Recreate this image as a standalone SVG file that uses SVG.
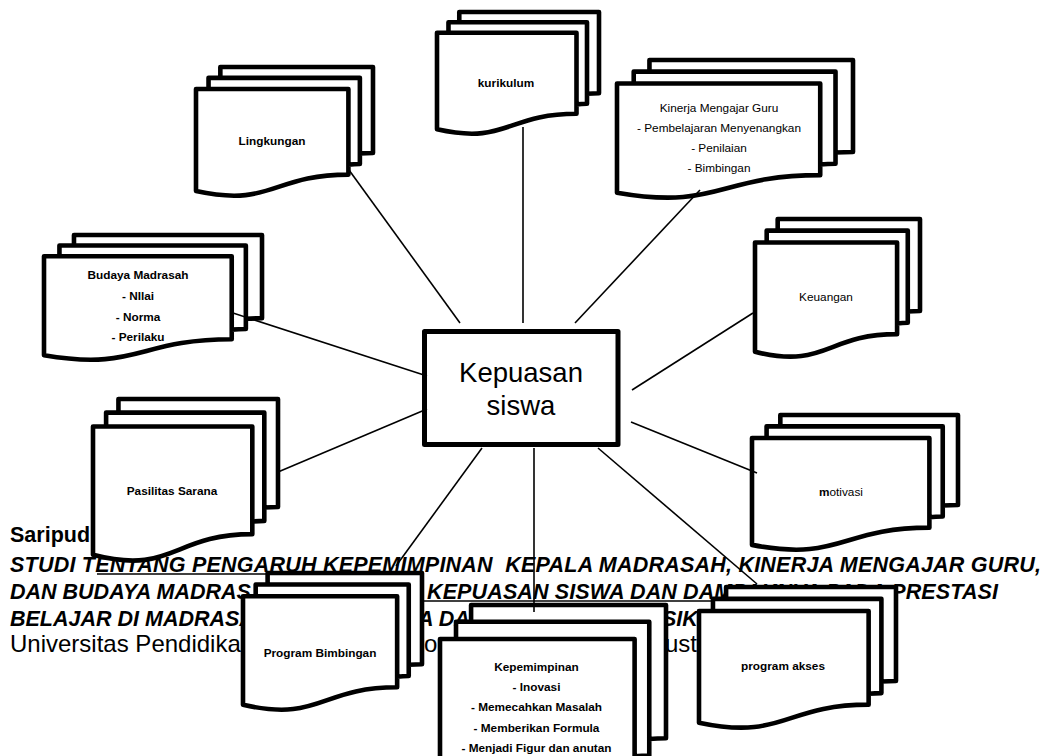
<svg xmlns="http://www.w3.org/2000/svg" xmlns:xlink="http://www.w3.org/1999/xlink" width="1051" height="756" viewBox="0 0 1051 756">
<style>
.md{fill:#fff;stroke:#000;stroke-width:4.6;stroke-linejoin:round;vector-effect:non-scaling-stroke}
.lbl{font-family:"Liberation Sans",Arial,sans-serif;font-size:11.8px;fill:#000;text-anchor:middle}
.b{font-weight:bold}
.ft{font-family:"Liberation Sans",Arial,sans-serif;fill:#000}
.bi{font-weight:bold;font-style:italic;font-size:21.5px}
.rg{font-size:24px}
.con line{stroke:#000;stroke-width:1.6;fill:none}
.ul{stroke:#000;stroke-width:1.3}
</style>
<defs>
<path id="md" class="md" d="M0,207.8 C93,235.4 93,180.2 186,180.2 L186,36.75 L0,36.75 Z M15.3,36.75 L15.3,18.15 L200,18.15 L200,162.5 C193,162.5 186,163.5 186,163.5 L186,36.75 Z M29.7,18.15 L29.7,0 L216,0 L216,143.9 C208,143.9 200,144.7 200,144.7 L200,18.15 Z"/>
</defs>
<rect width="1051" height="756" fill="#fff"/>
<g id="footer">
<text class="ft b" x="10" y="542" font-size="21.5px">Saripud</text>
<text class="ft bi" x="10" y="572" xml:space="preserve" textLength="1031" lengthAdjust="spacing">STUDI TENTANG PENGARUH KEPEMIMPINAN  KEPALA MADRASAH, KINERJA MENGAJAR GURU,</text>
<text class="ft bi" x="10" y="599">DAN BUDAYA MADRAS</text>
<text class="ft bi" x="427" y="599" textLength="571" lengthAdjust="spacing">KEPUASAN SISWA DAN DAMPAKNYA PADA PRESTASI</text>
<text class="ft bi" x="10" y="626">BELAJAR DI MADRASA</text>
<text class="ft bi" x="418" y="626">A DA</text>
<text class="ft bi" x="662" y="626">SIK</text>
<text class="ft rg" x="10" y="652">Universitas Pendidika</text>
<text class="ft rg" x="424" y="652">o</text>
<text class="ft rg" x="665" y="652">ust</text>
<line class="ul" x1="97" y1="574" x2="272" y2="574"/>
<line class="ul" x1="423" y1="601" x2="720" y2="601"/>
</g>
<g id="node-lingkungan">
<use xlink:href="#md" href="#md" transform="translate(196,67) scale(0.8194,0.5972)"/>
<text class="lbl b" x="272" y="145">Lingkungan</text>
</g>
<g id="node-kurikulum">
<use xlink:href="#md" href="#md" transform="translate(437,12) scale(0.75,0.5648)"/>
<text class="lbl b" x="506" y="87">kurikulum</text>
</g>
<g id="node-kinerja">
<use xlink:href="#md" href="#md" transform="translate(617,60) scale(1.0926,0.6389)"/>
<text class="lbl" x="719" y="112">Kinerja Mengajar Guru</text>
<text class="lbl" x="719" y="132">- Pembelajaran Menyenangkan</text>
<text class="lbl" x="719" y="152">- Penilaian</text>
<text class="lbl" x="719" y="172">- Bimbingan</text>
</g>
<g id="node-budaya">
<use xlink:href="#md" href="#md" transform="translate(44,235) scale(1.0093,0.5787)"/>
<text class="lbl b" x="138" y="279">Budaya Madrasah</text>
<text class="lbl b" x="138" y="300">- NIlai</text>
<text class="lbl b" x="138" y="321">- Norma</text>
<text class="lbl b" x="138" y="341">- Perilaku</text>
</g>
<g id="node-keuangan">
<use xlink:href="#md" href="#md" transform="translate(755,219) scale(0.7639,0.6389)"/>
<text class="lbl" x="826" y="301">Keuangan</text>
</g>
<g id="node-motivasi">
<use xlink:href="#md" href="#md" transform="translate(752,415) scale(0.9537,0.625)"/>
<text class="lbl" x="841" y="496"><tspan class="b">m</tspan>otivasi</text>
</g>
<g id="node-pasilitas">
<use xlink:href="#md" href="#md" transform="translate(93,399) scale(0.8565,0.75)"/>
<text class="lbl b" x="172" y="495">Pasilitas Sarana</text>
</g>
<g id="node-program-bimbingan">
<use xlink:href="#md" href="#md" transform="translate(243,573) scale(0.8287,0.6343)"/>
<text class="lbl b" x="320" y="657">Program Bimbingan</text>
</g>
<g id="node-kepemimpinan">
<use xlink:href="#md" href="#md" transform="translate(440,605) scale(1.0463,0.9259)"/>
<text class="lbl b" x="536.5" y="671">Kepemimpinan</text>
<text class="lbl b" x="536.5" y="691">- Inovasi</text>
<text class="lbl b" x="536.5" y="711">- Memecahkan Masalah</text>
<text class="lbl b" x="536.5" y="732">- Memberikan Formula</text>
<text class="lbl b" x="536.5" y="752">- Menjadi Figur dan anutan</text>
</g>
<g id="node-program-akses">
<use xlink:href="#md" href="#md" transform="translate(699,587) scale(0.912,0.6528)"/>
<text class="lbl b" x="783" y="670">program akses</text>
</g>
<g id="node-kepuasan">
<rect x="424.5" y="331.5" width="193.5" height="113" fill="#fff" stroke="#000" stroke-width="5" stroke-linejoin="round"/>
<text class="ft" x="521" y="382" font-size="27.5px" text-anchor="middle">Kepuasan</text>
<text class="ft" x="521" y="415" font-size="27.5px" text-anchor="middle">siswa</text>
</g>
<g id="connectors" class="con">
<line x1="349" y1="170" x2="460" y2="323"/>
<line x1="523" y1="127" x2="523" y2="323"/>
<line x1="700" y1="190" x2="575" y2="323"/>
<line x1="233" y1="313" x2="427" y2="376"/>
<line x1="278" y1="472" x2="427" y2="409"/>
<line x1="753" y1="313" x2="632" y2="390"/>
<line x1="631" y1="422" x2="757" y2="473"/>
<line x1="482" y1="448" x2="396" y2="566"/>
<line x1="534" y1="448" x2="534" y2="612"/>
<line x1="598" y1="448" x2="757" y2="584"/>
</g>
</svg>
